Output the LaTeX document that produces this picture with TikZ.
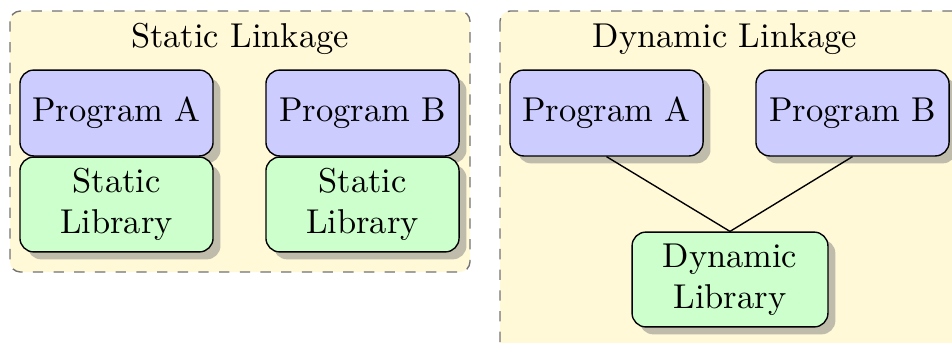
\documentclass[tikz,border=0pt]{standalone}
\usetikzlibrary{shadows}
\definecolor{panelbg}{RGB}{255,249,216}
\begin{document}
\begin{tikzpicture}[x=0.29pt,y=-0.29pt,
  panel/.style={draw=black!55,dashed,fill=panelbg,rounded corners=3pt},
  progbox/.style={draw=black,fill=blue!20,rounded corners=4pt,drop shadow,
    minimum width=56pt,minimum height=24.9pt,align=center,inner sep=0pt},
  libbox/.style={draw=black,fill=green!20,rounded corners=4pt,drop shadow,
    minimum width=56pt,minimum height=27.5pt,align=center,inner sep=0pt},
  title/.style={anchor=base}]
\useasboundingbox (0,0) rectangle (952,342);
\begin{scope}
\clip (0,0) rectangle (952,342);
% containers
\draw[panel] (10,11) rectangle (470,272);
\draw[panel] (500,11) rectangle (990,380);
\end{scope}
\node[title] (tstatic) at (240,47) {Static Linkage};
\node[title] (tdyn) at (725,47) {Dynamic Linkage};
% static linkage
\node[progbox] (sa) at (116.5,113) {Program A};
\node[libbox] (sla) at (116.5,204.5) {Static\\Library};
\node[progbox] (sb) at (362.5,113) {Program B};
\node[libbox] (slb) at (362.5,204.5) {Static\\Library};
% dynamic linkage
\draw (606.5,156) coordinate (pa) (852.5,156) coordinate (pb);
\node[progbox] (da) at (606.5,113) {Program A};
\node[progbox] (db) at (852.5,113) {Program B};
\node[libbox,minimum width=56.8pt] (dl) at (730,279.5) {Dynamic\\Library};
\draw (da.south) -- (dl.north) -- (db.south);
\end{tikzpicture}
\end{document}
